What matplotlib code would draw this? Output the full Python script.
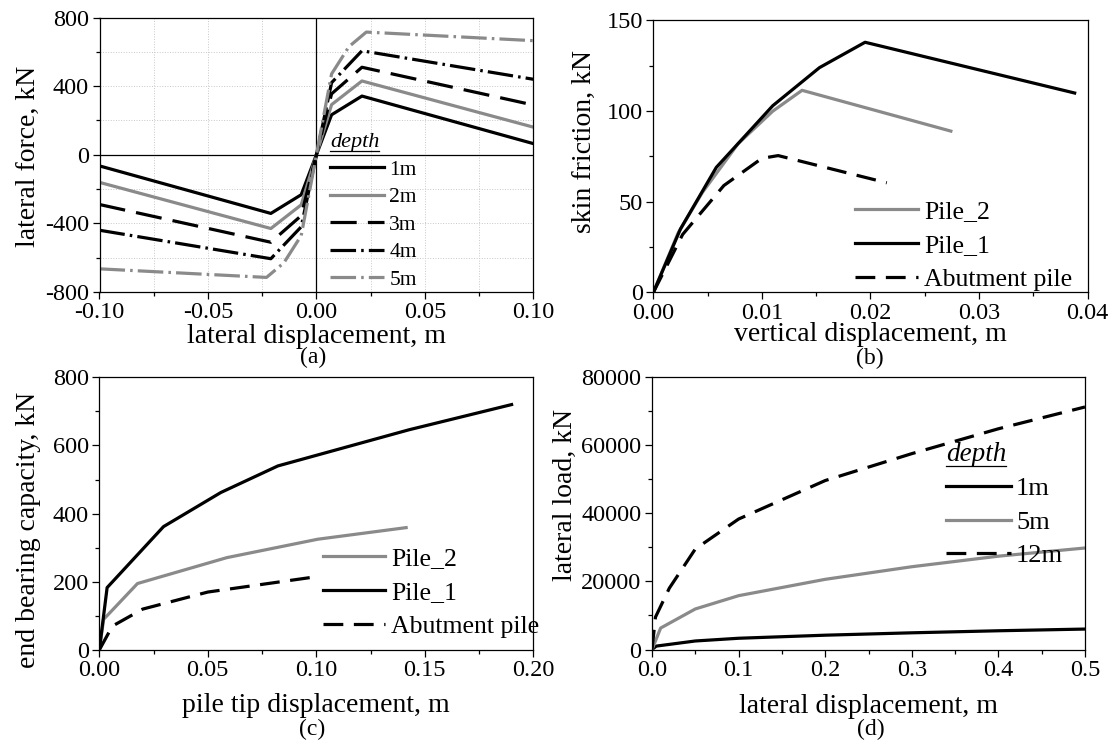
import matplotlib
matplotlib.use('Agg')
import matplotlib.pyplot as plt
from matplotlib.lines import Line2D
from matplotlib.ticker import MultipleLocator, FormatStrFormatter

plt.rcParams['font.family'] = ['Liberation Serif', 'DejaVu Serif']
plt.rcParams['axes.unicode_minus'] = False

# ---------------- data ----------------
# (a) p-y springs
a_labels = ['1m', '2m', '3m', '4m', '5m']
a_x = [-0.1, -0.021, -0.007, 0.0, 0.007, 0.021, 0.1]
a_1m = [-65, -342, -233, 0, 233, 342, 65]
a_2m = [-161, -430, -292, 0, 292, 430, 161]
a_3m = [-290, -510, -355, 0, 355, 510, 290]
a_4m = [-440, -606, -420, 0, 420, 606, 440]
a_x5 = [-0.1, -0.023, -0.015, -0.007, 0.0, 0.007, 0.015, 0.023, 0.1]
a_5m = [-665, -715, -630, -471, 0, 471, 630, 715, 665]

# (b) skin friction
b_labels = ['Pile_2', 'Pile_1', 'Abutment pile']
b_x_p2 = [0, 0.0023, 0.0045, 0.0078, 0.011, 0.0137, 0.0274]
b_y_p2 = [0, 33, 55, 82, 100, 111.5, 89]
b_x_p1 = [0, 0.0025, 0.0058, 0.011, 0.0153, 0.0195, 0.0388]
b_y_p1 = [0, 35, 69, 103, 124, 138, 110]
b_x_ab = [0, 0.0027, 0.0065, 0.0100, 0.0115, 0.0215]
b_y_ab = [0, 32, 59, 74, 75.5, 60.5]

# (c) end bearing
c_labels = ['Pile_2', 'Pile_1', 'Abutment pile']
c_x_p2 = [0, 0.002, 0.0176, 0.0588, 0.1007, 0.1414]
c_y_p2 = [0, 90, 195, 271, 325, 359]
c_x_p1 = [0, 0.0036, 0.0296, 0.056, 0.0823, 0.1427, 0.19]
c_y_p1 = [0, 183, 362, 462, 540, 646, 720]
c_x_ab = [0, 0.006, 0.02, 0.05, 0.08, 0.1]
c_y_ab = [0, 70, 120, 170, 197, 215]

# (d) lateral load
d_labels = ['1m', '5m', '12m']
d_x_1m = [0, 0.005, 0.05, 0.1, 0.2, 0.3, 0.4, 0.5]
d_y_1m = [0, 1000, 2500, 3300, 4200, 4900, 5500, 6000]
d_x_5m = [0, 0.01, 0.05, 0.1, 0.2, 0.3, 0.4, 0.5]
d_y_5m = [0, 6300, 11900, 15800, 20600, 24300, 27400, 29800]
d_x_12m = [0, 0.004, 0.02, 0.05, 0.1, 0.2, 0.3, 0.4, 0.5]
d_y_12m = [0, 9500, 18000, 29500, 38300, 49600, 57500, 64800, 71200]

# ---------------- style ----------------
W, H = 1117, 744
GRAY = '#8a8a8a'
LW = 2.3
DASH = (0, (6.2, 3.3))
DASH_A = (0, (8.2, 3.5))
DASHDOT = (0, (8.0, 1.6, 0.8, 1.6))
TICK_FS = 17.5
LABEL_FS = 20
CAP_FS = 17

fig = plt.figure(figsize=(W / 100, H / 100), dpi=100)


def make_axes(l, t, r, b):
    ax = fig.add_axes([l / W, 1 - b / H, (r - l) / W, (b - t) / H])
    for s in ax.spines.values():
        s.set_linewidth(0.9)
    ax.tick_params(which='both', direction='out', top=False, right=False,
                   labelsize=TICK_FS, pad=2.5, width=0.9)
    ax.tick_params(which='major', length=5)
    ax.tick_params(which='minor', length=3)
    return ax


def place_labels(ax, px_box, xl_top, yl_right, yl_center, cap_top, cap_cx, cap):
    l, t, r, b = px_box
    h = b - t
    w = r - l
    ax.xaxis.set_label_coords(0.5, (b - xl_top) / h)
    ax.xaxis.label.set_va('top')
    ax.yaxis.set_label_coords((yl_right - l) / w, (b - yl_center) / h)
    fig.text(cap_cx / W, 1 - cap_top / H, cap, ha='center', va='top',
             fontsize=CAP_FS)


legends_with_title = []

# ---- (a)
box_a = (99.5, 17.5, 533.3, 292)
ax = make_axes(*box_a)
ax.axhline(0, color='black', lw=0.9, zorder=1.8)
ax.axvline(0, color='black', lw=0.9, zorder=1.8)
ax.plot(a_x, a_1m, color='black', lw=LW, label=a_labels[0])
ax.plot(a_x, a_2m, color=GRAY, lw=LW, label=a_labels[1])
ax.plot(a_x, a_3m, color='black', lw=LW, ls=DASH_A, label=a_labels[2])
ax.plot(a_x, a_4m, color='black', lw=LW, ls=DASHDOT, label=a_labels[3])
ax.plot(a_x5, a_5m, color=GRAY, lw=LW, ls=DASHDOT, label=a_labels[4])
ax.set_xlim(-0.1, 0.1)
ax.set_ylim(-800, 800)
ax.xaxis.set_major_locator(MultipleLocator(0.05))
ax.xaxis.set_minor_locator(MultipleLocator(0.025))
ax.yaxis.set_major_locator(MultipleLocator(400))
ax.yaxis.set_minor_locator(MultipleLocator(200))
ax.xaxis.set_major_formatter(FormatStrFormatter('%.2f'))
ax.grid(which='both', color='#c8c8c8', lw=0.7, ls=':')
ax.set_xlabel('lateral displacement, m', fontsize=LABEL_FS)
ax.set_ylabel('lateral force, kN', fontsize=LABEL_FS)
place_labels(ax, box_a, 324, 41, 156, 347, 313, '(a)')
leg = ax.legend(loc='upper left', bbox_to_anchor=((330 - 99.5) / 433.8, (292 - 133) / 274.5),
                frameon=False, fontsize=15.5, borderpad=0, borderaxespad=0,
                handlelength=2.5, handletextpad=0.25, labelspacing=0.35,
                title='depth', title_fontproperties={'size': 16, 'style': 'italic'},
                alignment='left')
legends_with_title.append(leg)

# ---- (b)
box_b = (653.3, 20.5, 1087.7, 292.5)
ax = make_axes(*box_b)
ax.plot(b_x_p2, b_y_p2, color=GRAY, lw=LW, label=b_labels[0])
ax.plot(b_x_p1, b_y_p1, color='black', lw=LW, label=b_labels[1])
ax.plot(b_x_ab, b_y_ab, color='black', lw=LW, ls=DASH, label=b_labels[2])
ax.set_xlim(0, 0.04)
ax.set_ylim(0, 150)
ax.xaxis.set_major_locator(MultipleLocator(0.01))
ax.xaxis.set_minor_locator(MultipleLocator(0.005))
ax.yaxis.set_major_locator(MultipleLocator(50))
ax.yaxis.set_minor_locator(MultipleLocator(25))
ax.xaxis.set_major_formatter(FormatStrFormatter('%.2f'))
ax.set_xlabel('vertical displacement, m', fontsize=LABEL_FS)
ax.set_ylabel('skin friction, kN', fontsize=LABEL_FS)
place_labels(ax, box_b, 322.5, 597, 142, 348, 870, '(b)')
ax.legend(loc='upper left', bbox_to_anchor=((855 - 653.3) / 434.4, (292.5 - 200.5) / 272),
          frameon=False, fontsize=18.5, borderpad=0, borderaxespad=0,
          handlelength=2.45, handletextpad=0.25, labelspacing=0.42)

# ---- (c)
box_c = (99.3, 377.3, 533.3, 650)
ax = make_axes(*box_c)
ax.plot(c_x_p2, c_y_p2, color=GRAY, lw=LW, label=c_labels[0])
ax.plot(c_x_p1, c_y_p1, color='black', lw=LW, label=c_labels[1])
ax.plot(c_x_ab, c_y_ab, color='black', lw=LW, ls=DASH, label=c_labels[2])
ax.set_xlim(0, 0.2)
ax.set_ylim(0, 800)
ax.xaxis.set_major_locator(MultipleLocator(0.05))
ax.xaxis.set_minor_locator(MultipleLocator(0.025))
ax.yaxis.set_major_locator(MultipleLocator(200))
ax.yaxis.set_minor_locator(MultipleLocator(100))
ax.xaxis.set_major_formatter(FormatStrFormatter('%.2f'))
ax.set_xlabel('pile tip displacement, m', fontsize=LABEL_FS)
ax.set_ylabel('end bearing capacity, kN', fontsize=LABEL_FS)
place_labels(ax, box_c, 693, 41, 530, 719, 312, '(c)')
ax.legend(loc='upper left', bbox_to_anchor=((323 - 99.3) / 434, (650 - 547.5) / 272.7),
          frameon=False, fontsize=18.5, borderpad=0, borderaxespad=0,
          handlelength=2.4, handletextpad=0.25, labelspacing=0.42)

# ---- (d)
box_d = (652, 377, 1085, 649.5)
ax = make_axes(*box_d)
ax.plot(d_x_1m, d_y_1m, color='black', lw=LW, label=d_labels[0])
ax.plot(d_x_5m, d_y_5m, color=GRAY, lw=LW, label=d_labels[1])
ax.plot(d_x_12m, d_y_12m, color='black', lw=LW, ls=DASH, label=d_labels[2])
ax.set_xlim(0, 0.5)
ax.set_ylim(0, 80000)
ax.xaxis.set_major_locator(MultipleLocator(0.1))
ax.xaxis.set_minor_locator(MultipleLocator(0.05))
ax.yaxis.set_major_locator(MultipleLocator(20000))
ax.yaxis.set_minor_locator(MultipleLocator(10000))
ax.xaxis.set_major_formatter(FormatStrFormatter('%.1f'))
ax.set_xlabel('lateral displacement, m', fontsize=LABEL_FS)
ax.set_ylabel('lateral load, kN', fontsize=LABEL_FS)
place_labels(ax, box_d, 694, 578, 495, 719, 871, '(d)')
leg = ax.legend(loc='upper left', bbox_to_anchor=((946 - 652) / 433, (649.5 - 442) / 272.5),
                frameon=False, fontsize=19, borderpad=0, borderaxespad=0,
                handlelength=2.45, handletextpad=0.2, labelspacing=0.38,
                title='depth', title_fontproperties={'size': 19.5, 'style': 'italic'},
                alignment='left')
legends_with_title.append(leg)

# underline the legend titles ("depth")
fig.canvas.draw()
inv = fig.transFigure.inverted()
for lg in legends_with_title:
    bb = lg.get_title().get_window_extent().transformed(inv)
    fig.add_artist(Line2D([bb.x0, bb.x1], [bb.y0 + 0.0015, bb.y0 + 0.0015],
                          transform=fig.transFigure, color='black', lw=0.9))

fig.savefig('out.png', dpi=100)
